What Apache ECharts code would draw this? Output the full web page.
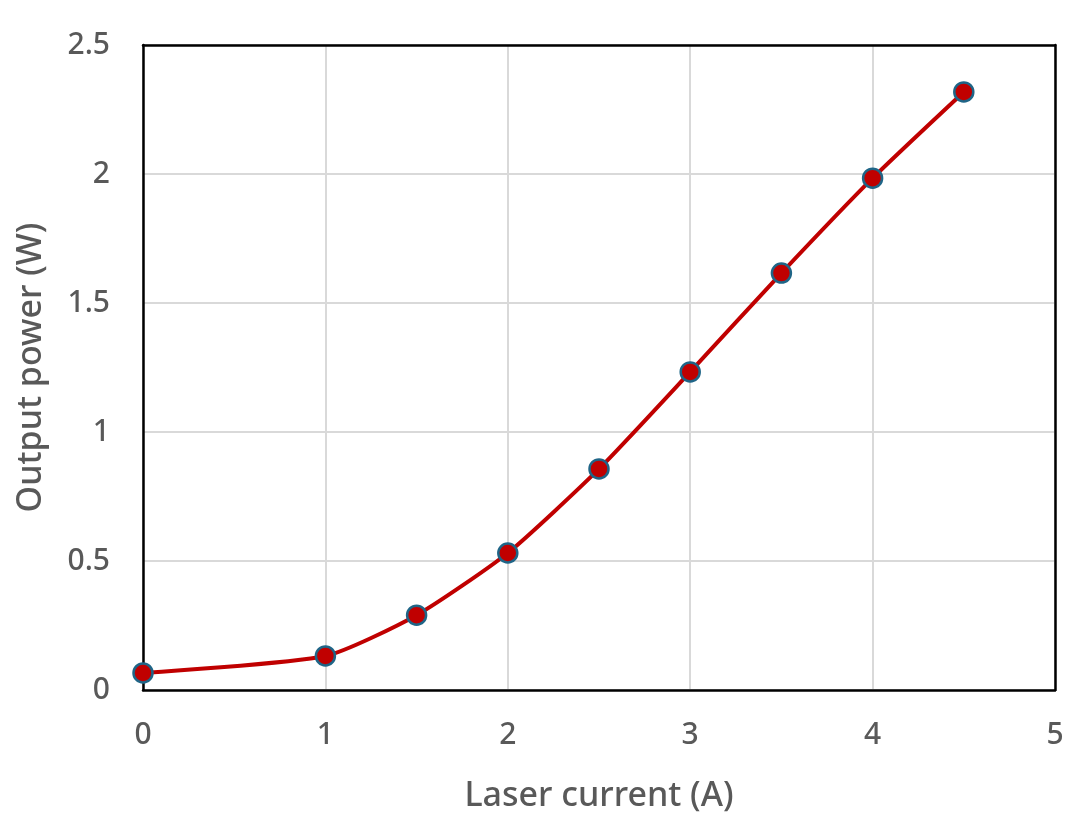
<!DOCTYPE html>
<html><head><meta charset="utf-8">
<script src="https://cdn.jsdelivr.net/npm/echarts@6/dist/echarts.min.js"></script>
<style>html,body{margin:0;padding:0;background:#fff}#c{width:1082px;height:828px}</style>
</head><body><div id="c"></div>
<script>
const current = [0, 1, 1.5, 2, 2.5, 3, 3.5, 4, 4.5];
const power = [0.066, 0.132, 0.29, 0.531, 0.857, 1.233, 1.616, 1.984, 2.318];
const chart = echarts.init(document.getElementById('c'));
const font = 'Noto Sans';
const grey = '#595959';
const frame = {show: true, onZero: false, lineStyle: {color: '#000', width: 2.5}};
chart.setOption({
  animation: false,
  backgroundColor: '#fff',
  grid: {left: 143, right: 27, top: 45, bottom: 138, outerBoundsMode: 'none', containLabel: false},
  xAxis: [{
    type: 'value', min: 0, max: 5, interval: 1,
    name: 'Laser current (A)', nameLocation: 'middle', nameGap: 89,
    nameTextStyle: {fontSize: 34, color: grey, fontFamily: font, fontWeight: 500},
    axisLine: frame,
    axisTick: {show: false},
    axisLabel: {fontSize: 30, color: grey, fontFamily: font, fontWeight: 500, margin: 30},
    splitLine: {show: true, lineStyle: {color: '#d9d9d9', width: 2}}
  }, {
    type: 'value', min: 0, max: 5, interval: 1, position: 'top',
    axisLine: frame, axisTick: {show: false}, axisLabel: {show: false}, splitLine: {show: false}
  }],
  yAxis: [{
    type: 'value', min: 0, max: 2.5, interval: 0.5,
    name: 'Output power (W)', nameLocation: 'middle', nameGap: 95,
    nameTextStyle: {fontSize: 34, color: grey, fontFamily: font, fontWeight: 500},
    axisLine: frame,
    axisTick: {show: false},
    axisLabel: {fontSize: 30, color: grey, fontFamily: font, fontWeight: 500, margin: 33},
    splitLine: {show: true, lineStyle: {color: '#d9d9d9', width: 2}}
  }, {
    type: 'value', min: 0, max: 2.5, interval: 0.5, position: 'right',
    axisLine: frame, axisTick: {show: false}, axisLabel: {show: false}, splitLine: {show: false}
  }],
  series: [{
    type: 'line',
    data: current.map((x, i) => [x, power[i]]),
    smooth: 0.2,
    symbol: 'circle', symbolSize: 19,
    lineStyle: {color: '#c00000', width: 4},
    itemStyle: {color: '#c00000', borderColor: '#1f6587', borderWidth: 2.5}
  }]
});
</script></body></html>
